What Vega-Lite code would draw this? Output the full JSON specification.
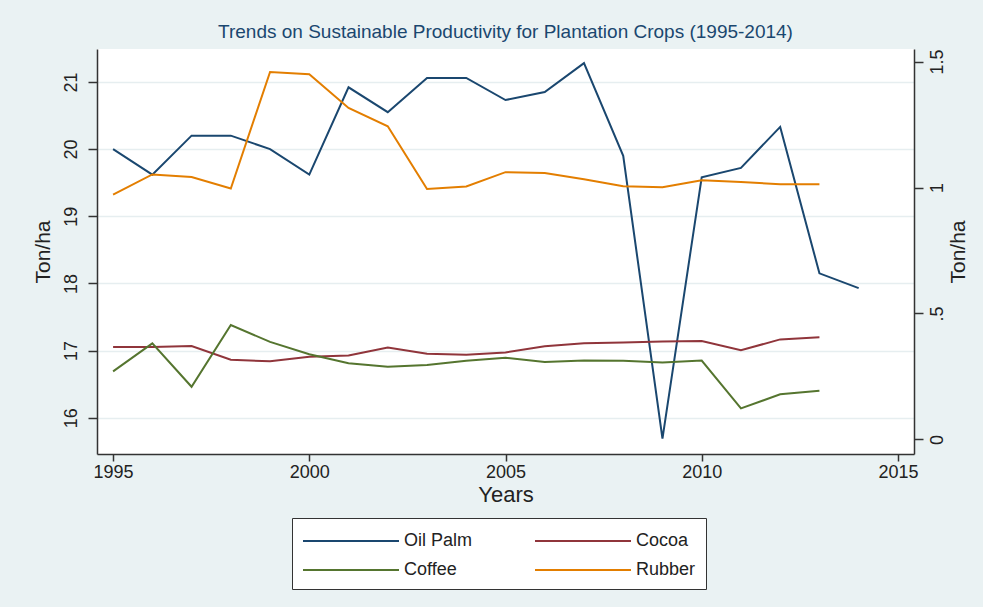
{
  "$schema": "https://vega.github.io/schema/vega-lite/v6.json",
  "width": 817,
  "height": 405,
  "autosize": {"type": "none"},
  "padding": {"left": 97, "top": 49, "right": 69, "bottom": 153},
  "background": "#eaf2f3",
  "title": {
    "text": "Trends on Sustainable Productivity for Plantation Crops (1995-2014)",
    "fontSize": 19,
    "font": "Liberation Sans",
    "fontWeight": "normal",
    "color": "#1a476f",
    "anchor": "middle",
    "offset": 7
  },
  "config": {
    "view": {"fill": "white", "stroke": null},
    "font": "Liberation Sans",
    "axis": {
      "domainColor": "#333333",
      "tickColor": "#333333",
      "labelColor": "#222222",
      "titleColor": "#222222",
      "labelFont": "Liberation Sans",
      "titleFont": "Liberation Sans",
      "titleFontWeight": "normal",
      "domainWidth": 1.5,
      "tickWidth": 1.5
    }
  },
  "data": {
    "values": [
      {"year": 1995, "crop": "Oil Palm", "value": 20.0},
      {"year": 1996, "crop": "Oil Palm", "value": 19.62},
      {"year": 1997, "crop": "Oil Palm", "value": 20.2},
      {"year": 1998, "crop": "Oil Palm", "value": 20.2},
      {"year": 1999, "crop": "Oil Palm", "value": 20.0},
      {"year": 2000, "crop": "Oil Palm", "value": 19.62},
      {"year": 2001, "crop": "Oil Palm", "value": 20.92},
      {"year": 2002, "crop": "Oil Palm", "value": 20.55},
      {"year": 2003, "crop": "Oil Palm", "value": 21.06},
      {"year": 2004, "crop": "Oil Palm", "value": 21.06},
      {"year": 2005, "crop": "Oil Palm", "value": 20.73},
      {"year": 2006, "crop": "Oil Palm", "value": 20.85},
      {"year": 2007, "crop": "Oil Palm", "value": 21.28},
      {"year": 2008, "crop": "Oil Palm", "value": 19.9},
      {"year": 2009, "crop": "Oil Palm", "value": 15.69},
      {"year": 2010, "crop": "Oil Palm", "value": 19.58},
      {"year": 2011, "crop": "Oil Palm", "value": 19.72},
      {"year": 2012, "crop": "Oil Palm", "value": 20.33},
      {"year": 2013, "crop": "Oil Palm", "value": 18.15},
      {"year": 2014, "crop": "Oil Palm", "value": 17.93},
      {"year": 1995, "crop": "Cocoa", "value": 0.367},
      {"year": 1996, "crop": "Cocoa", "value": 0.367},
      {"year": 1997, "crop": "Cocoa", "value": 0.371},
      {"year": 1998, "crop": "Cocoa", "value": 0.316},
      {"year": 1999, "crop": "Cocoa", "value": 0.31},
      {"year": 2000, "crop": "Cocoa", "value": 0.328},
      {"year": 2001, "crop": "Cocoa", "value": 0.333},
      {"year": 2002, "crop": "Cocoa", "value": 0.365},
      {"year": 2003, "crop": "Cocoa", "value": 0.34},
      {"year": 2004, "crop": "Cocoa", "value": 0.336},
      {"year": 2005, "crop": "Cocoa", "value": 0.345},
      {"year": 2006, "crop": "Cocoa", "value": 0.37},
      {"year": 2007, "crop": "Cocoa", "value": 0.382},
      {"year": 2008, "crop": "Cocoa", "value": 0.385},
      {"year": 2009, "crop": "Cocoa", "value": 0.389},
      {"year": 2010, "crop": "Cocoa", "value": 0.391},
      {"year": 2011, "crop": "Cocoa", "value": 0.354},
      {"year": 2012, "crop": "Cocoa", "value": 0.397},
      {"year": 2013, "crop": "Cocoa", "value": 0.406},
      {"year": 1995, "crop": "Coffee", "value": 0.27},
      {"year": 1996, "crop": "Coffee", "value": 0.381},
      {"year": 1997, "crop": "Coffee", "value": 0.209},
      {"year": 1998, "crop": "Coffee", "value": 0.454},
      {"year": 1999, "crop": "Coffee", "value": 0.387},
      {"year": 2000, "crop": "Coffee", "value": 0.338},
      {"year": 2001, "crop": "Coffee", "value": 0.302},
      {"year": 2002, "crop": "Coffee", "value": 0.288},
      {"year": 2003, "crop": "Coffee", "value": 0.295},
      {"year": 2004, "crop": "Coffee", "value": 0.312},
      {"year": 2005, "crop": "Coffee", "value": 0.324},
      {"year": 2006, "crop": "Coffee", "value": 0.307},
      {"year": 2007, "crop": "Coffee", "value": 0.313},
      {"year": 2008, "crop": "Coffee", "value": 0.312},
      {"year": 2009, "crop": "Coffee", "value": 0.305},
      {"year": 2010, "crop": "Coffee", "value": 0.313},
      {"year": 2011, "crop": "Coffee", "value": 0.123},
      {"year": 2012, "crop": "Coffee", "value": 0.179},
      {"year": 2013, "crop": "Coffee", "value": 0.193},
      {"year": 1995, "crop": "Rubber", "value": 0.972},
      {"year": 1996, "crop": "Rubber", "value": 1.052},
      {"year": 1997, "crop": "Rubber", "value": 1.042},
      {"year": 1998, "crop": "Rubber", "value": 0.996},
      {"year": 1999, "crop": "Rubber", "value": 1.459},
      {"year": 2000, "crop": "Rubber", "value": 1.45},
      {"year": 2001, "crop": "Rubber", "value": 1.316},
      {"year": 2002, "crop": "Rubber", "value": 1.243},
      {"year": 2003, "crop": "Rubber", "value": 0.994},
      {"year": 2004, "crop": "Rubber", "value": 1.004},
      {"year": 2005, "crop": "Rubber", "value": 1.061},
      {"year": 2006, "crop": "Rubber", "value": 1.058},
      {"year": 2007, "crop": "Rubber", "value": 1.033},
      {"year": 2008, "crop": "Rubber", "value": 1.005},
      {"year": 2009, "crop": "Rubber", "value": 1.001},
      {"year": 2010, "crop": "Rubber", "value": 1.029},
      {"year": 2011, "crop": "Rubber", "value": 1.022},
      {"year": 2012, "crop": "Rubber", "value": 1.013},
      {"year": 2013, "crop": "Rubber", "value": 1.013}
    ]
  },
  "layer": [
    {
      "transform": [{"filter": "datum.crop === 'Oil Palm'"}],
      "mark": {"type": "line", "strokeWidth": 2},
      "encoding": {
        "x": {
          "field": "year", "type": "quantitative",
          "scale": {"domain": [1994.59, 2015.41], "nice": false, "zero": false},
          "axis": {
            "values": [1995, 2000, 2005, 2010, 2015], "format": "d",
            "grid": false, "labelFontSize": 18, "tickSize": 7, "labelPadding": 2,
            "title": "Years", "titleFontSize": 22, "titlePadding": 3
          }
        },
        "y": {
          "field": "value", "type": "quantitative",
          "scale": {"domain": [15.46, 21.49], "nice": false, "zero": false},
          "axis": {
            "values": [16, 17, 18, 19, 20, 21],
            "labelAngle": -90, "labelFontSize": 18, "tickSize": 9, "labelPadding": 8,
            "grid": true, "gridColor": "#e6eef0", "gridWidth": 1.5,
            "title": "Ton/ha", "titleFontSize": 21, "titlePadding": 9
          }
        },
        "color": {
          "field": "crop", "type": "nominal",
          "scale": {"domain": ["Oil Palm", "Coffee", "Cocoa", "Rubber"], "range": ["#1a476f", "#55752f", "#90353b", "#e37e00"]},
          "legend": {
            "title": null, "orient": "none", "legendX": 195, "legendY": 469,
            "columns": 2, "symbolType": "M-4,0H4", "symbolSize": 576, "symbolStrokeWidth": 2,
            "symbolOffset": 36, "labelOffset": 40,
            "labelFontSize": 18, "labelColor": "#222222", "fillColor": "white", "strokeColor": "#333333",
            "padding": 10, "columnPadding": 58, "rowPadding": 7
          }
        }
      }
    },
    {
      "transform": [{"filter": "datum.crop !== 'Oil Palm'"}],
      "mark": {"type": "line", "strokeWidth": 2},
      "encoding": {
        "x": {"field": "year", "type": "quantitative"},
        "y": {
          "field": "value", "type": "quantitative",
          "scale": {"domain": [-0.058, 1.55], "nice": false, "zero": false},
          "axis": {
            "orient": "right", "values": [0, 0.5, 1, 1.5],
            "labelExpr": "datum.value == 0 ? '0' : datum.value == 0.5 ? '.5' : datum.value == 1 ? '1' : '1.5'",
            "labelAngle": -90, "labelFontSize": 18, "tickSize": 9, "labelPadding": 5,
            "grid": false,
            "title": "Ton/ha", "titleFontSize": 21, "titleAngle": -90, "titlePadding": 22
          }
        },
        "color": {
          "field": "crop", "type": "nominal",
          "scale": {"domain": ["Oil Palm", "Coffee", "Cocoa", "Rubber"], "range": ["#1a476f", "#55752f", "#90353b", "#e37e00"]}
        }
      }
    }
  ],
  "resolve": {"scale": {"y": "independent"}}
}
